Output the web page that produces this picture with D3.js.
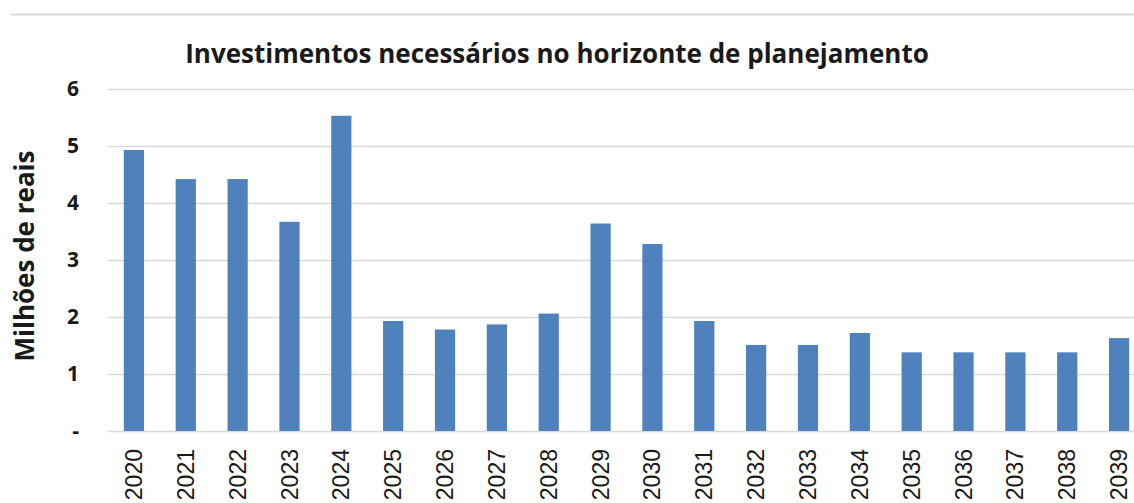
<!DOCTYPE html>
<html>
<head>
<meta charset="utf-8">
<script src="https://cdn.jsdelivr.net/npm/d3@7"></script>
<style>
  body { margin: 0; background: #fff; }
  svg { display: block; }
</style>
</head>
<body>
<div id="container-chart"></div>
<script>
const years = ["2020","2021","2022","2023","2024","2025","2026","2027","2028","2029",
               "2030","2031","2032","2033","2034","2035","2036","2037","2038","2039"];
const investimentos = [4.93, 4.42, 4.42, 3.67, 5.53, 1.93, 1.78, 1.87, 2.06, 3.64,
                       3.28, 1.93, 1.51, 1.51, 1.72, 1.38, 1.38, 1.38, 1.38, 1.63];
const yTicks = [0, 1, 2, 3, 4, 5, 6];
const yTickLabels = ["-", "1", "2", "3", "4", "5", "6"];

const width = 1134, height = 503;
const margin = {top: 89, bottom: 72, left: 108};

const svg = d3.select("#container-chart")
  .append("svg")
  .attr("width", width)
  .attr("height", height);

// thin frame line at the top
svg.append("line")
  .attr("x1", 11).attr("x2", width)
  .attr("y1", 14.5).attr("y2", 14.5)
  .attr("stroke", "#d9d9d9").attr("stroke-width", 2);

const x = d3.scaleBand()
  .domain(years)
  .range([margin.left, margin.left + 20 * 51.85])
  .paddingInner(0.61)
  .paddingOuter(0.305);

const y = d3.scaleLinear()
  .domain([0, 6])
  .range([height - margin.bottom, margin.top]);

// gridlines
svg.append("g")
  .selectAll("line")
  .data(yTicks)
  .join("line")
  .attr("x1", margin.left).attr("x2", width)
  .attr("y1", d => Math.round(y(d)) + 0.5)
  .attr("y2", d => Math.round(y(d)) + 0.5)
  .attr("stroke", "#d9d9d9")
  .attr("stroke-width", 1.5);

// bars
svg.append("g")
  .selectAll("rect")
  .data(investimentos)
  .join("rect")
  .attr("x", (d, i) => x(years[i]))
  .attr("width", x.bandwidth())
  .attr("y", d => y(d))
  .attr("height", d => y(0) - y(d))
  .attr("fill", "#4f81bd");

// y axis
const yAxis = svg.append("g")
  .attr("transform", "translate(" + 79 + ",0)")
  .call(d3.axisLeft(y).tickValues(yTicks).tickFormat((d, i) => yTickLabels[i]).tickSize(0).tickPadding(0));
yAxis.select(".domain").remove();
yAxis.selectAll("text")
  .attr("font-family", "'Open Sans', sans-serif")
  .attr("font-weight", "bold")
  .attr("font-size", 21)
  .attr("fill", "#1a1a1a");

// x axis
const xAxis = svg.append("g")
  .attr("transform", "translate(0," + (height - margin.bottom) + ")")
  .call(d3.axisBottom(x).tickSize(0).tickPadding(0));
xAxis.select(".domain").remove();
xAxis.selectAll("text")
  .attr("font-family", "'Liberation Sans', Arial, sans-serif")
  .attr("font-size", 23)
  .attr("fill", "#1a1a1a")
  .attr("text-anchor", "end")
  .attr("transform", "translate(0,18) rotate(-90)")
  .attr("dx", 0)
  .attr("dy", "0.35em")
  .attr("x", 0).attr("y", 0);

// title
svg.append("text")
  .attr("x", 557).attr("y", 63)
  .attr("text-anchor", "middle")
  .attr("font-family", "'Open Sans', sans-serif")
  .attr("font-weight", "bold")
  .attr("font-size", 26)
  .attr("fill", "#1a1a1a")
  .text("Investimentos necessários no horizonte de planejamento");

// y label
svg.append("text")
  .attr("transform", "translate(34,256) rotate(-90)")
  .attr("text-anchor", "middle")
  .attr("font-family", "'Open Sans', sans-serif")
  .attr("font-weight", "bold")
  .attr("font-size", 26)
  .attr("fill", "#1a1a1a")
  .text("Milhões de reais");
</script>
</body>
</html>
